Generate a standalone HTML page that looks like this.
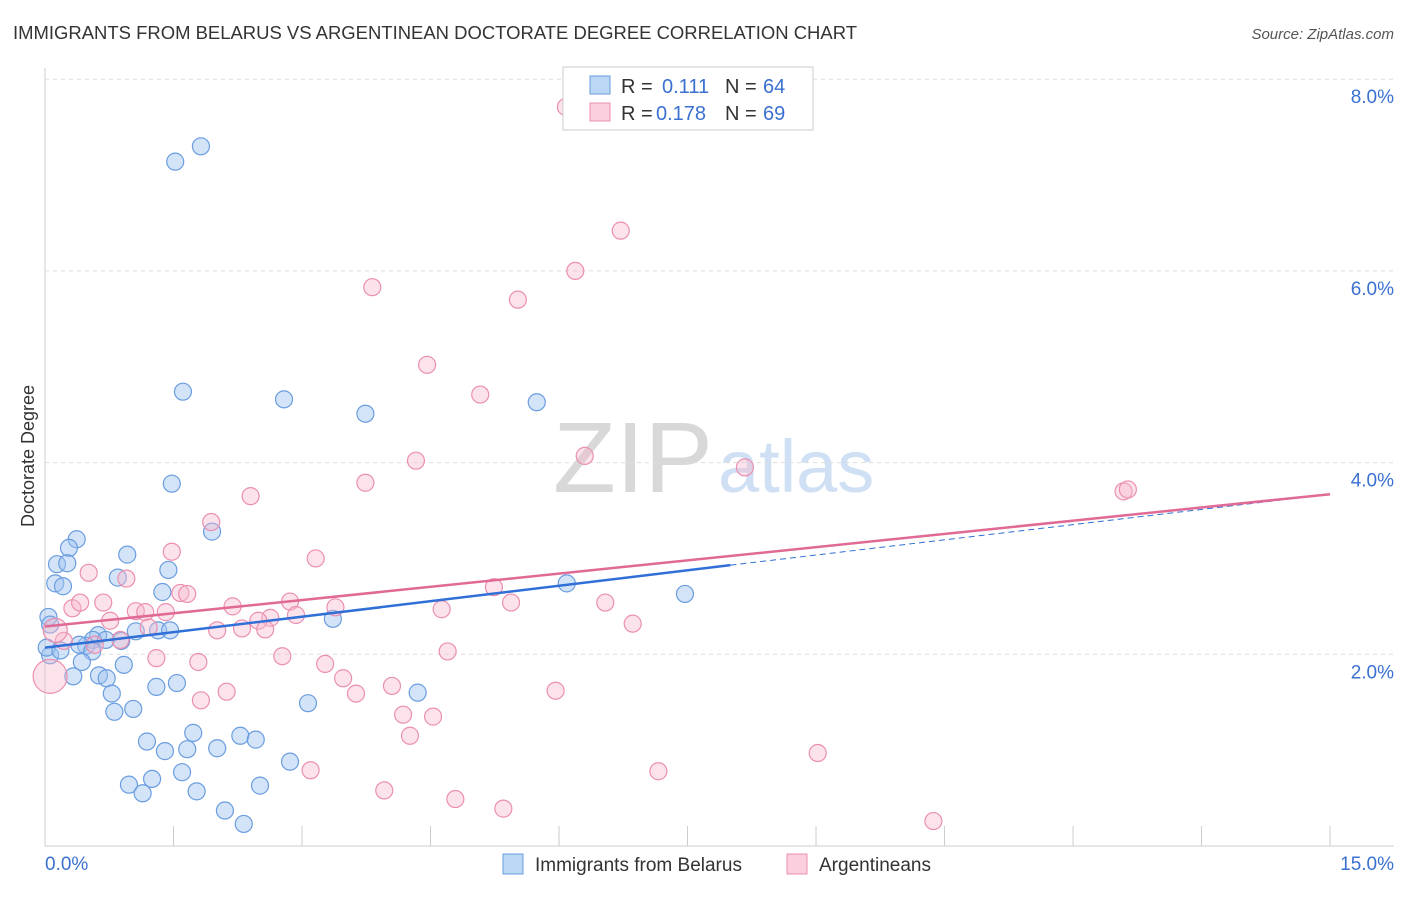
<!DOCTYPE html>
<html><head><meta charset="utf-8"><style>
body{margin:0;background:#fff;font-family:"Liberation Sans",sans-serif;}
svg text{font-family:"Liberation Sans",sans-serif;}
</style></head><body>
<svg id="c" width="1406" height="892" xmlns="http://www.w3.org/2000/svg">
<text x="13" y="39" font-size="18" fill="#333" textLength="844" lengthAdjust="spacingAndGlyphs">IMMIGRANTS FROM BELARUS VS ARGENTINEAN DOCTORATE DEGREE CORRELATION CHART</text>
<text x="1394" y="39" font-size="15" fill="#555" text-anchor="end" font-style="italic">Source: ZipAtlas.com</text>
<text transform="translate(34,456) rotate(-90)" font-size="18" fill="#333" text-anchor="middle">Doctorate Degree</text>
<text x="553" y="492" font-size="100" fill="#d8d8d8" font-family="Liberation Serif" textLength="160" lengthAdjust="spacingAndGlyphs">ZIP</text>
<text x="718" y="492" font-size="74" fill="#cfe0f5">atlas</text>
<g id="grid"></g><g id="pts"></g><g id="lines"></g>
<g>
<rect x="563" y="67" width="250" height="63" fill="#fff" stroke="#ccc"/>
<rect x="590" y="76" width="20" height="18" fill="#bcd6f5" stroke="#6a9de0"/>
<rect x="590" y="103" width="20" height="18" fill="#fbcfdd" stroke="#eb8fb0"/>
<text x="621" y="93" font-size="20" fill="#333">R = </text><text x="662" y="93" font-size="20" fill="#3a70d0">0.111</text>
<text x="725" y="93" font-size="20" fill="#333">N = </text><text x="763" y="93" font-size="20" fill="#3a70d0">64</text>
<text x="621" y="120" font-size="20" fill="#333">R = </text><text x="656" y="120" font-size="20" fill="#3a70d0">0.178</text>
<text x="725" y="120" font-size="20" fill="#333">N = </text><text x="763" y="120" font-size="20" fill="#3a70d0">69</text>
</g>
<g>
<rect x="503" y="854" width="20" height="20" fill="#bcd6f5" stroke="#6a9de0"/>
<text x="535" y="871" font-size="19" fill="#333">Immigrants from Belarus</text>
<rect x="787" y="854" width="20" height="20" fill="#fbcfdd" stroke="#eb8fb0"/>
<text x="819" y="871" font-size="19" fill="#333">Argentineans</text>
</g>
<text x="45" y="870" font-size="19" fill="#3a70d0">0.0%</text>
<text x="1394" y="870" font-size="19" fill="#3a70d0" text-anchor="end">15.0%</text>
</svg>
<script>
const yTicks=[2,4,6,8];
const yTickLabels=["2.0%","4.0%","6.0%","8.0%"];
const xTicks=[1.5,3,4.5,6,7.5,9,10.5,12,13.5,15];
const bluePx=[[201,146],[175,162],[183,392],[284,399],[365,414],[537,402],[172,484],[212,532],[77,539],[69,548],[57,564],[67,563],[127,555],[55,583],[63,586],[118,578],[168,570],[162,592],[567,583],[685,594],[48,617],[158,630],[136,631],[333,619],[98,635],[93,640],[86,646],[79,645],[121,641],[92,651],[50,655],[47,648],[60,650],[82,662],[124,665],[73,676],[99,675],[107,678],[112,694],[156,687],[177,683],[418,693],[308,703],[114,712],[133,709],[193,733],[240,736],[256,740],[147,742],[187,749],[165,751],[217,748],[290,762],[182,772],[152,779],[129,785],[143,793],[197,791],[260,786],[225,811],[244,824],[50,625],[106,640],[170,630]];
const pinkPx=[[566,107],[621,231],[575,271],[372,287],[518,300],[427,365],[480,395],[416,461],[585,456],[745,467],[365,483],[251,496],[1124,491],[1128,489],[211,522],[316,558],[172,552],[89,573],[126,579],[180,593],[187,594],[494,587],[103,603],[72,608],[80,603],[136,611],[145,612],[166,612],[233,606],[290,602],[335,607],[511,603],[605,603],[296,615],[270,618],[258,621],[265,629],[217,630],[242,628],[442,609],[633,624],[110,621],[149,627],[64,641],[120,640],[95,645],[448,651],[156,658],[198,662],[282,656],[325,664],[343,678],[392,686],[556,691],[356,694],[227,692],[201,700],[403,715],[433,717],[410,736],[818,753],[311,770],[658,771],[384,790],[455,799],[503,809],[933,821],[50,676],[55,630]];
const blueX=bluePx.map(p=>+((p[0]-45)/85.67).toFixed(2)), blueY=bluePx.map(p=>+((846-p[1])/95.85).toFixed(2));
const pinkX=pinkPx.map(p=>+((p[0]-45)/85.67).toFixed(2)), pinkY=pinkPx.map(p=>+((846-p[1])/95.85).toFixed(2));
const blueLine=[[0,2.07],[8,2.93],[15,3.67]];
const pinkLine=[[0,2.29],[15,3.67]];
const X=v=>45+v*85.67, Y=v=>846-v*95.85;
const NS="http://www.w3.org/2000/svg";
function mk(tag,attrs,parent){const e=document.createElementNS(NS,tag);for(const k in attrs)e.setAttribute(k,attrs[k]);parent.appendChild(e);return e;}
const grid=document.getElementById('grid');
const ax=mk('line',{x1:45,y1:68,x2:45,y2:846,stroke:'#ccc'},grid);

const xa=mk('line',{x1:45,y1:846,x2:1394,y2:846,stroke:'#ccc'},grid);

yTicks.forEach((t,i)=>{
 const g=mk('line',{x1:45,y1:Y(t),x2:1394,y2:Y(t),stroke:'#ddd','stroke-dasharray':'4,4'},grid);
 
 const l=mk('text',{x:1394,y:Y(t)+24,'font-size':19,fill:'#3a70d0','text-anchor':'end'},grid);
 l.textContent=yTickLabels[i];
 
});
xTicks.forEach(t=>{const k=mk('line',{x1:X(t),y1:826,x2:X(t),y2:846,stroke:'#ccc'},grid);
 });
const pts=document.getElementById('pts');
blueX.forEach((x,i)=>{const c=mk('circle',{cx:X(x),cy:Y(blueY[i]),r:8.5,fill:'rgba(160,195,240,0.45)',stroke:'#6a9de0','stroke-width':1.2},pts);
 });
pinkX.forEach((x,i)=>{const r=i>=pinkX.length-2?(i==pinkX.length-2?17:12):8.5;
 const c=mk('circle',{cx:X(x),cy:Y(pinkY[i]),r:r,fill:'rgba(248,185,205,0.4)',stroke:'#eb8fb0','stroke-width':1.2},pts);
 });
const lines=document.getElementById('lines');
const b1=mk('line',{x1:X(blueLine[0][0]),y1:Y(blueLine[0][1]),x2:X(blueLine[1][0]),y2:Y(blueLine[1][1]),stroke:'#2f6fd6','stroke-width':2.5},lines);

const b2=mk('line',{x1:X(blueLine[1][0]),y1:Y(blueLine[1][1]),x2:X(blueLine[2][0]),y2:Y(blueLine[2][1]),stroke:'#2f6fd6','stroke-width':1,'stroke-dasharray':'6,4'},lines);

const p1=mk('line',{x1:X(pinkLine[0][0]),y1:Y(pinkLine[0][1]),x2:X(pinkLine[1][0]),y2:Y(pinkLine[1][1]),stroke:'#e06a95','stroke-width':2.5},lines);

</script>
</body></html>
